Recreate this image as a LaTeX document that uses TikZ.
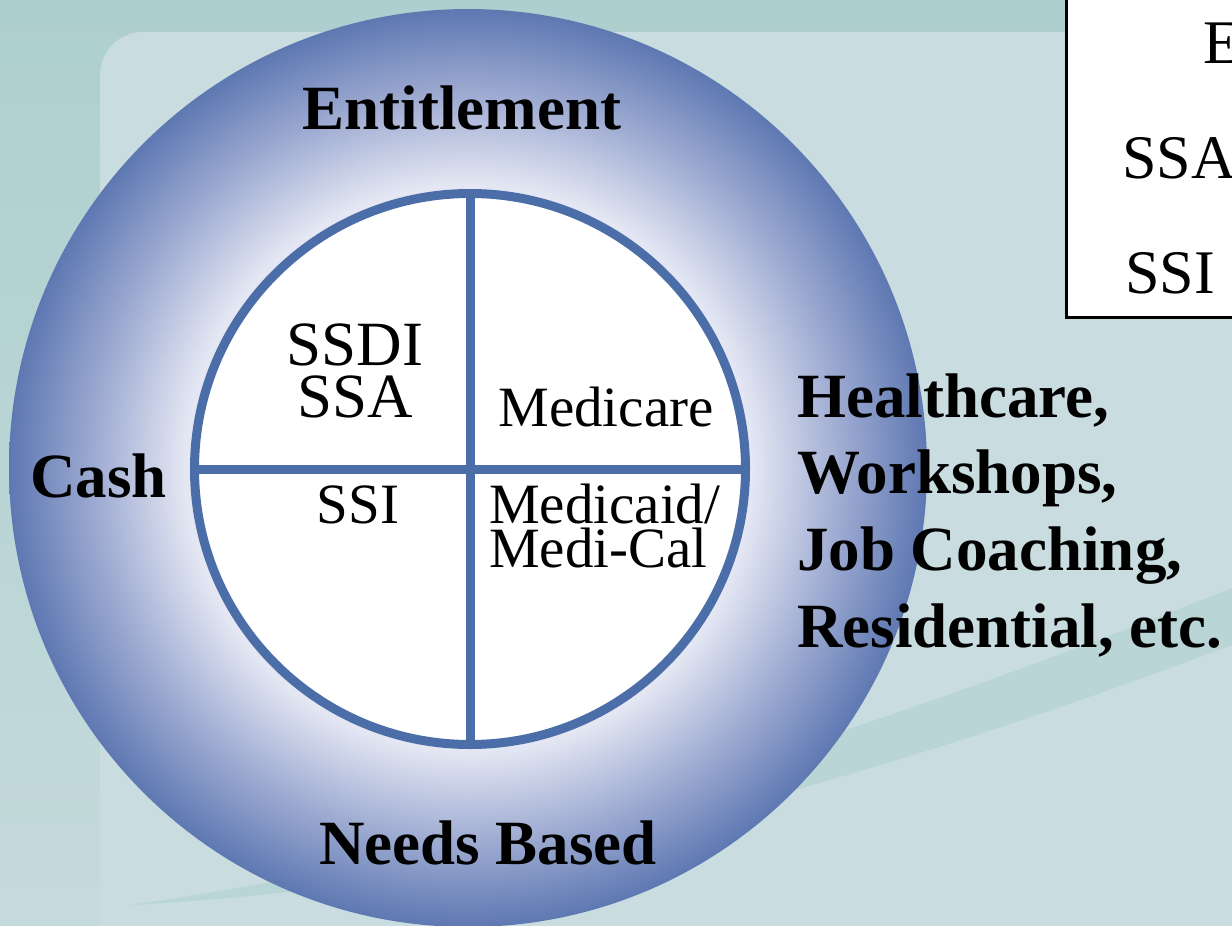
\documentclass[tikz,border=0pt]{standalone}
\usepackage{fontspec}
\setmainfont{Liberation Serif}

\definecolor{bgteal}{RGB}{174,207,207}
\definecolor{bglight}{RGB}{197,218,220}
\definecolor{bgpanel}{RGB}{201,220,224}
\definecolor{bgswoosh}{RGB}{185,213,214}
\definecolor{ringlight}{RGB}{228,231,243}
\definecolor{ringmid}{RGB}{163,175,212}
\definecolor{ringdark}{RGB}{94,120,178}
\definecolor{pieblue}{RGB}{76,110,168}
\pgfdeclareradialshading{ringshade}{\pgfpoint{0bp}{0bp}}{color(0bp)=(ringlight); color(15.4bp)=(ringlight); color(20bp)=(ringmid); color(25bp)=(ringdark); color(50bp)=(ringdark)}

\begin{document}
\begin{tikzpicture}[x=1pt,y=-1pt,
    ringlabel/.style={font=\bfseries\fontsize{63}{76}\selectfont, inner sep=0pt},
    pielabel/.style={font=\fontsize{63}{52}\selectfont, inner sep=0pt},
    smalllabel/.style={font=\fontsize{57}{44}\selectfont, inner sep=0pt},
    keylabel/.style={font=\fontsize{62}{70}\selectfont, inner sep=0pt, anchor=base west},
    pieline/.style={pieblue, line width=9pt}]
  \useasboundingbox (0,0) rectangle (1232,926);
  \clip (0,0) rectangle (1232,926);
  \fill[top color=bgteal, bottom color=bglight] (0,0) rectangle (1232,926);
  \fill[bgpanel, rounded corners=43pt] (100,32) rectangle (1400,1100);
  \fill[bgswoosh] (130,905) .. controls (520,850) and (900,720) .. (1232,588) -- (1232,645) .. controls (900,770) and (520,885) .. (130,905) -- cycle;

  \node[circle, minimum size=918pt, inner sep=0pt, shade, shading=ringshade] (ring) at (468,468) {};
  \node[circle, draw=pieblue, line width=9pt, fill=white, minimum size=551pt, inner sep=0pt] (pie) at (470,469) {};
  \draw[pieline] (pie.north) -- (pie.south);
  \draw[pieline] (pie.west) -- (pie.east);

  \node[ringlabel, anchor=base] (entitle) at (462,129) {Entitlement};
  \node[ringlabel, anchor=base west] (cash) at (30,497) {Cash};
  \node[ringlabel, anchor=base] (needs) at (488,864) {Needs Based};
  \node[ringlabel, anchor=base west] (health) at (797,417) {Healthcare,};
  \node[ringlabel, anchor=base west] (workshop) at (797,493) {Workshops,};
  \node[ringlabel, anchor=base west] (coach) at (797,570) {Job Coaching,};
  \node[ringlabel, anchor=base west] (resid) at (797,647) {Residential, etc.};

  \node[pielabel, anchor=base] (ssdi) at (355,365) {SSDI};
  \node[pielabel, anchor=base] (ssa) at (355,417) {SSA};
  \node[smalllabel, anchor=base] (medicare) at (606,426) {Medicare};
  \node[smalllabel, anchor=base] (ssi) at (358,523) {SSI};
  \node[smalllabel, anchor=base west] (medicaid) at (489,523) {Medicaid/};
  \node[smalllabel, anchor=base west] (medical) at (489,567) {Medi-Cal};

  \node[draw=black, line width=2.5pt, fill=white, anchor=north west, minimum width=300pt, minimum height=340pt, inner sep=0pt] (key) at (1065,-24) {};
  \node[keylabel] (keye) at (1203,63) {E};
  \node[keylabel] (keyssa) at (1122,178) {SSA};
  \node[keylabel] (keyssi) at (1125,293) {SSI};
\end{tikzpicture}
\end{document}
